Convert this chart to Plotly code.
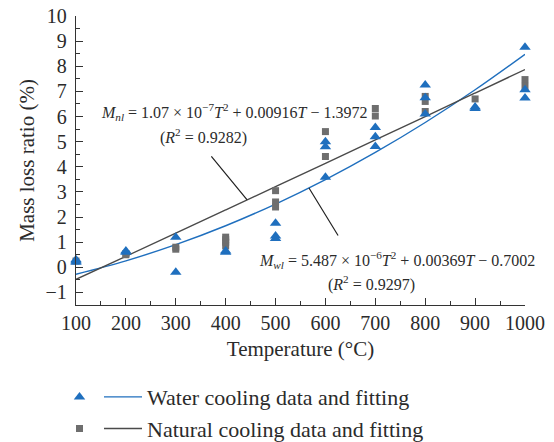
import plotly.graph_objects as go

# ---- data ----
water_T = [100, 100, 100, 200, 200, 300, 300, 400, 400, 500, 500, 500,
           600, 600, 600, 700, 700, 700, 800, 800, 800, 900, 900,
           1000, 1000, 1000]
water_M = [0.2, 0.25, 0.3, 0.6, 0.65, 1.2, -0.2, 0.6, 0.65, 1.75, 1.25, 1.15,
           5.0, 4.8, 3.58, 5.56, 5.2, 4.81, 7.25, 6.75, 6.1, 6.38, 6.32,
           8.76, 7.07, 6.74]
natural_T = [100, 200, 200, 300, 300, 400, 400, 400, 400, 500, 500, 500,
             600, 600, 700, 700, 800, 800, 800, 900, 1000, 1000]
natural_M = [0.25, 0.5, 0.55, 0.72, 0.8, 0.85, 1.0, 1.1, 1.2, 3.05, 2.6, 2.4,
             5.4, 4.41, 6.32, 6.02, 6.8, 6.6, 6.2, 6.7, 7.47, 7.2]
fit_T = [100, 200, 300, 400, 500, 600, 700, 800, 900, 1000]
water_fit = [-0.2763, 0.2573, 0.9006, 1.6537, 2.5166, 3.4891, 4.5714, 5.7635, 7.0653, 8.4768]
natural_fit = [-0.4801, 0.4391, 1.3604, 2.2839, 3.2096, 4.1373, 5.0672, 5.9993, 6.9335, 7.8698]
x_ticks = [100, 200, 300, 400, 500, 600, 700, 800, 900, 1000]
y_ticks = [-1, 0, 1, 2, 3, 4, 5, 6, 7, 8, 9, 10]

BLUE = "#1f6fbe"
GRAY_M = "#6e6e6e"
GRAY_L = "#4a4a4a"
TXT = "#2b2b2b"
FONT = "Liberation Serif"

fig = go.Figure()
fig.add_trace(go.Scatter(x=fit_T, y=water_fit, mode="lines", line=dict(color=BLUE, width=1.4, shape="spline"),
                         name="Water cooling data and fitting", legend="legend2"))
fig.add_trace(go.Scatter(x=fit_T, y=natural_fit, mode="lines", line=dict(color=GRAY_L, width=1.4, shape="spline"),
                         name="Natural cooling data and fitting", legend="legend2"))
fig.add_trace(go.Scatter(x=natural_T, y=natural_M, mode="markers", cliponaxis=False,
                         marker=dict(symbol="square", size=7, color=GRAY_M), name=" ", legend="legend"))
fig.add_trace(go.Scatter(x=water_T, y=water_M, mode="markers", cliponaxis=False,
                         marker=dict(symbol="triangle-up", size=10, color=BLUE), name=" ", legend="legend"))


def nl(T):
    return 1.07e-7 * T**2 + 0.00916 * T - 1.3972


def wl(T):
    return 5.487e-6 * T**2 + 0.00369 * T - 0.7002


# page-pixel geometry of the plot area (the page body adds an 8px offset)
OFF = 8
L, R, T, B = 76, 525, 16, 305

anns = [
    dict(x=443, y=nl(443), xref="x", yref="y", text="", showarrow=True, arrowhead=0,
         arrowwidth=1.2, arrowcolor="#222", ax=-37, ay=-45, standoff=0),
    dict(x=567, y=wl(567), xref="x", yref="y", text="", showarrow=True, arrowhead=0,
         arrowwidth=1.2, arrowcolor="#222", ax=30, ay=49, standoff=0),
]
texts = [
    (234, 111.7, "<i>M</i><sub><i>nl</i></sub> = 1.07 × 10<sup>−7</sup><i>T</i><sup>2</sup> + 0.00916<i>T</i> − 1.3972"),
    (203, 136.7, "(<i>R</i><sup>2</sup> = 0.9282)"),
    (397, 260, "<i>M</i><sub><i>wl</i></sub> = 5.487 × 10<sup>−6</sup><i>T</i><sup>2</sup> + 0.00369<i>T</i> − 0.7002"),
    (371, 283, "(<i>R</i><sup>2</sup> = 0.9297)"),
]
for px, py, t in texts:
    anns.append(dict(x=(px - L) / (R - L), y=(B - py) / (B - T), xref="paper", yref="paper",
                     text=t, showarrow=False, xanchor="center", yanchor="middle",
                     font=dict(family=FONT, size=16, color=TXT)))
fig.update_layout(annotations=anns)

axis_common = dict(showline=True, linecolor="#333", linewidth=1.3, ticks="inside",
                   ticklen=7, tickwidth=1.2, tickcolor="#333", showgrid=False, zeroline=False,
                   tickfont=dict(family=FONT, size=20, color=TXT), ticklabeloverflow="allow",
                   minor=dict(ticks="inside", ticklen=4, tickwidth=1.2, tickcolor="#333"))
fig.update_xaxes(range=[100, 1000], tickvals=x_ticks, minor_dtick=50, **axis_common, ticklabelstandoff=0,
                 title=dict(text="Temperature (°C)", font=dict(family=FONT, size=21, color=TXT), standoff=8))
fig.update_yaxes(range=[-1.5, 10], tickvals=y_ticks, minor_dtick=0.5, **axis_common, ticklabelstandoff=4,
                 title=dict(text="Mass loss ratio (%)", font=dict(family=FONT, size=21, color=TXT), standoff=5))

W, H = 554 - OFF, 442 - OFF
PW = R - L
fig.update_layout(
    width=W, height=H,
    margin=dict(l=L - OFF, r=554 - R, t=T - OFF, b=442 - B, autoexpand=False),
    plot_bgcolor="white", paper_bgcolor="white",
    font=dict(family=FONT, color=TXT),
    showlegend=True,
    legend=dict(x=(59.5 - L) / PW, y=-0.246, xanchor="left", yanchor="top", traceorder="reversed",
                font=dict(family=FONT, size=22, color=TXT), bgcolor="rgba(0,0,0,0)",
                itemwidth=30, tracegroupgap=0),
    legend2=dict(x=(99 - L) / PW, y=-0.246, xanchor="left", yanchor="top",
                 font=dict(family=FONT, size=22, color=TXT), bgcolor="rgba(0,0,0,0)",
                 itemwidth=38, tracegroupgap=0),
)

fig.write_html("out.html")
